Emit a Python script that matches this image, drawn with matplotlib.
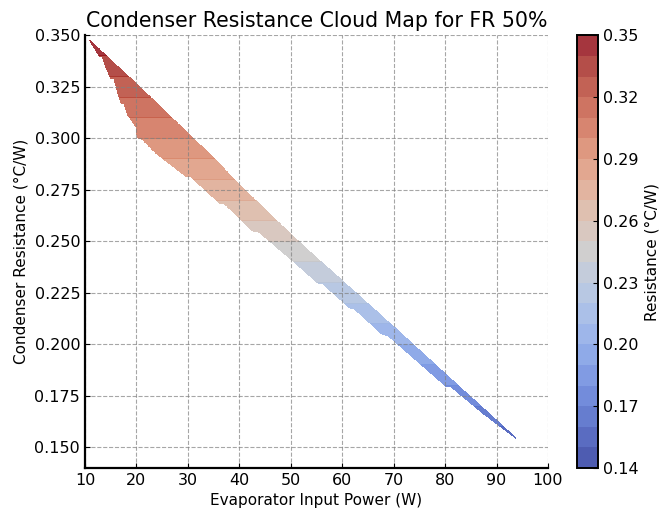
import numpy as np
import matplotlib
matplotlib.use("Agg")
import matplotlib.pyplot as plt
from matplotlib.colors import ListedColormap

# upper edge of the band (smooth)
up_power = [10.8, 15, 20, 25, 30, 35, 40, 45, 50, 55, 60, 65, 70, 75, 80, 85, 90, 94.2]
up_res = [0.348, 0.338, 0.3265, 0.3145, 0.3025, 0.2905, 0.2775, 0.2655, 0.2535,
          0.242, 0.231, 0.2198, 0.2086, 0.1972, 0.1858, 0.1745, 0.1632, 0.1536]

# lower edge of the band (stepped)
lo_power = [10.8, 12.8, 13.4, 14.1, 15.0, 15.6, 16.3, 17.0, 17.6, 18.3, 19.9, 20.2,
            21.0, 23.8, 29.6, 30.6, 36.2, 37.2, 42.7, 43.8, 49.8, 55.3, 56.2, 61.5,
            62.3, 67.9, 68.9, 75.0, 80.2, 81.2, 87.3, 94.2]
lo_res = [0.3479, 0.3397, 0.3394, 0.3341, 0.3292, 0.3290, 0.3227, 0.3171, 0.3168,
          0.3114, 0.3057, 0.3001, 0.2998, 0.2928, 0.2815, 0.2812, 0.2685, 0.2680,
          0.2548, 0.2545, 0.2418, 0.2297, 0.2294, 0.2176, 0.2173, 0.2046, 0.2043,
          0.1909, 0.1796, 0.1793, 0.1666, 0.1536]

levels = np.linspace(0.14, 0.35, 22)
cb_ticks = [0.14, 0.17, 0.20, 0.23, 0.26, 0.29, 0.32, 0.35]

# coolwarm at alpha 0.8 on white, darkened (gamma) and a bit desaturated like the original
a = 0.85
rgb = 0.8 * plt.get_cmap('coolwarm')(np.linspace(0, 1, 256))[:, :3] + 0.2
rgb = 0.95 * rgb ** 1.35
rgb = 0.85 * rgb + 0.15 * rgb.mean(axis=1, keepdims=True)
cmap = ListedColormap(np.clip((rgb - (1 - a)) / a, 0, 1))

xs = np.linspace(10, 100, 1800)
ys = np.linspace(0.14, 0.35, 1800)
X, Y = np.meshgrid(xs, ys)
top = np.interp(X, up_power, up_res)
bot = np.interp(X, lo_power, lo_res)
outside = (Y > top) | (Y < bot) | (X < up_power[0]) | (X > up_power[-1])
Z = np.ma.masked_where(outside, Y)

fig = plt.figure(figsize=(6.65, 5.11), dpi=100)
ax = fig.add_axes([0.1278, 0.0842, 0.6962, 0.8467])
cax = fig.add_axes([0.8677, 0.0842, 0.0316, 0.8467])

cf = ax.contourf(X, Y, Z, levels=levels, cmap=cmap, alpha=a)
ax.set_xlim(10, 100)
ax.set_ylim(0.14, 0.35)
ax.set_xticks(np.arange(10, 101, 10))
ax.set_yticks(np.arange(0.15, 0.351, 0.025))
ax.yaxis.set_major_formatter(matplotlib.ticker.FormatStrFormatter('%.3f'))
ax.grid(True, linestyle='--', color='gray', linewidth=0.8, alpha=0.7)
ax.spines['top'].set_visible(False)
ax.spines['right'].set_visible(False)
ax.spines['left'].set_linewidth(1.6)
ax.spines['bottom'].set_linewidth(1.6)
ax.tick_params(direction='in', labelsize=11.5)
ax.set_title('Condenser Resistance Cloud Map for FR 50%', fontsize=14.8)
ax.set_xlabel('Evaporator Input Power (W)', fontsize=11)
ax.set_ylabel('Condenser Resistance (°C/W)', fontsize=11)

cb = fig.colorbar(cf, cax=cax, ticks=cb_ticks)
cb.ax.yaxis.set_major_formatter(matplotlib.ticker.FormatStrFormatter('%.2f'))
cb.ax.tick_params(direction='in', labelsize=11.5)
cb.set_label('Resistance (°C/W)', fontsize=11)
cb.outline.set_linewidth(1.4)

fig.savefig('out.png', dpi=100)
